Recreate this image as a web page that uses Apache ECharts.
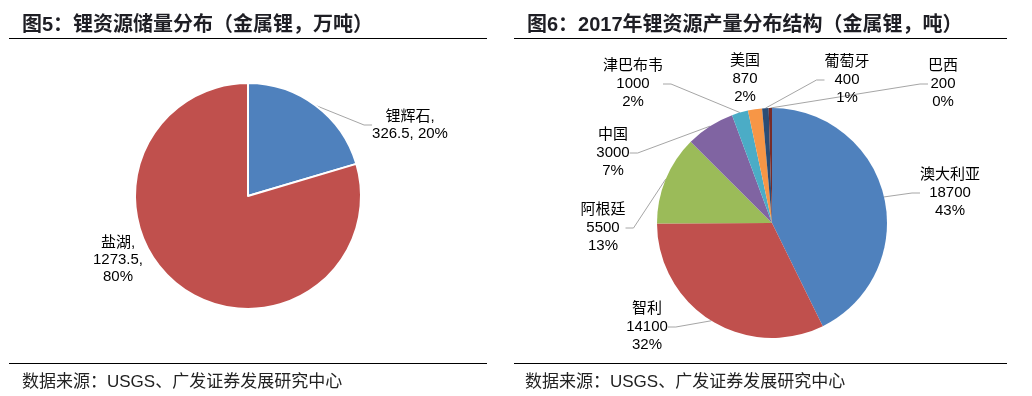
<!DOCTYPE html>
<html>
<head>
<meta charset="utf-8">
<script src="https://cdn.jsdelivr.net/npm/echarts@6/dist/echarts.min.js"></script>
<style>
  html, body { margin: 0; padding: 0; background: #fff; }
  #container { width: 1032px; height: 396px; }
</style>
</head>
<body>
<div id="container"></div>
<script>
// 图5 数据
var reserveNames = ['锂辉石', '盐湖'];
var reserveValues = [326.5, 1273.5];

// 图6 数据
var outputNames = ['澳大利亚', '智利', '阿根廷', '中国', '津巴布韦', '美国', '葡萄牙', '巴西'];
var outputValues = [18700, 14100, 5500, 3000, 1000, 870, 400, 200];

var reserveColors = ['#4F81BD', '#C0504D'];
var outputColors = ['#4F81BD', '#C0504D', '#9BBB59', '#8064A2', '#4BACC6', '#F79646', '#2C4D75', '#772C2A'];

// 标签中心位置
var reserveLabelPos = [[410, 125], [118, 260]];
var outputLabelPos = [[950, 193], [647, 327], [603, 228], [613, 153], [633, 84], [745, 79], [847, 80], [943, 84]];

var labelFont = '"Liberation Sans", "Noto Sans CJK SC", sans-serif';
var titleFont = '"Liberation Sans", "Noto Sans CJK SC", sans-serif';

function buildData(names, values, colors, noLine) {
    var list = [];
    for (var i = 0; i < names.length; i++) {
        var item = {
            name: names[i],
            value: values[i],
            itemStyle: { color: colors[i] }
        };
        if (noLine.indexOf(i) >= 0) {
            item.labelLine = { show: false };
        }
        list.push(item);
    }
    return list;
}

var myChart = echarts.init(document.getElementById('container'));

var option = {
    animation: false,
    backgroundColor: '#fff',
    title: [
        {
            text: '图5：锂资源储量分布（金属锂，万吨）',
            left: 17, top: 10,
            textStyle: { fontFamily: titleFont, fontSize: 20, fontWeight: 'bold', color: '#1e1e24' }
        },
        {
            text: '图6：2017年锂资源产量分布结构（金属锂，吨）',
            left: 522, top: 10,
            textStyle: { fontFamily: titleFont, fontSize: 20, fontWeight: 'bold', color: '#1e1e24' }
        },
        {
            text: '数据来源：USGS、广发证券发展研究中心',
            left: 17, top: 369,
            textStyle: { fontFamily: labelFont, fontSize: 17, fontWeight: 'normal', color: '#222' }
        },
        {
            text: '数据来源：USGS、广发证券发展研究中心',
            left: 520, top: 369,
            textStyle: { fontFamily: labelFont, fontSize: 17, fontWeight: 'normal', color: '#222' }
        }
    ],
    graphic: [
        { type: 'line', shape: { x1: 9, y1: 38.5, x2: 487, y2: 38.5 }, style: { stroke: '#000', lineWidth: 1 } },
        { type: 'line', shape: { x1: 514, y1: 38.5, x2: 1007, y2: 38.5 }, style: { stroke: '#000', lineWidth: 1 } },
        { type: 'line', shape: { x1: 9, y1: 363.5, x2: 487, y2: 363.5 }, style: { stroke: '#000', lineWidth: 1 } },
        { type: 'line', shape: { x1: 514, y1: 363.5, x2: 1007, y2: 363.5 }, style: { stroke: '#000', lineWidth: 1 } }
    ],
    series: [
        {
            name: '锂资源储量',
            type: 'pie',
            center: [248, 196],
            radius: 113,
            startAngle: 90,
            clockwise: true,
            percentPrecision: 0,
            itemStyle: { borderColor: '#fff', borderWidth: 2 },
            label: {
                show: true,
                position: 'outside',
                fontFamily: labelFont,
                fontSize: 15,
                lineHeight: 17,
                color: '#000',
                align: 'center',
                formatter: function (p) {
                    if (p.dataIndex === 0) {
                        return p.name + ',\n' + p.value + ', ' + p.percent + '%';
                    }
                    return p.name + ',\n' + p.value + ',\n' + p.percent + '%';
                }
            },
            labelLine: { show: true, length: 10, length2: 8, lineStyle: { color: '#A6A6A6', width: 1 } },
            labelLayout: function (p) {
                var pos = reserveLabelPos[p.dataIndex];
                return { x: pos[0], y: pos[1], align: 'center', verticalAlign: 'middle' };
            },
            data: buildData(reserveNames, reserveValues, reserveColors, [1])
        },
        {
            name: '锂资源产量',
            type: 'pie',
            center: [772, 223],
            radius: 115,
            startAngle: 90,
            clockwise: true,
            percentPrecision: 0,
            itemStyle: { borderWidth: 0 },
            label: {
                show: true,
                position: 'outside',
                fontFamily: labelFont,
                fontSize: 15,
                lineHeight: 18,
                color: '#000',
                align: 'center',
                formatter: '{b}\n{c}\n{d}%'
            },
            labelLine: { show: true, length: 10, length2: 8, lineStyle: { color: '#A6A6A6', width: 1 } },
            labelLayout: function (p) {
                var pos = outputLabelPos[p.dataIndex];
                return { x: pos[0], y: pos[1], align: 'center', verticalAlign: 'middle' };
            },
            data: buildData(outputNames, outputValues, outputColors, [5])
        }
    ]
};

myChart.setOption(option);
</script>
</body>
</html>
